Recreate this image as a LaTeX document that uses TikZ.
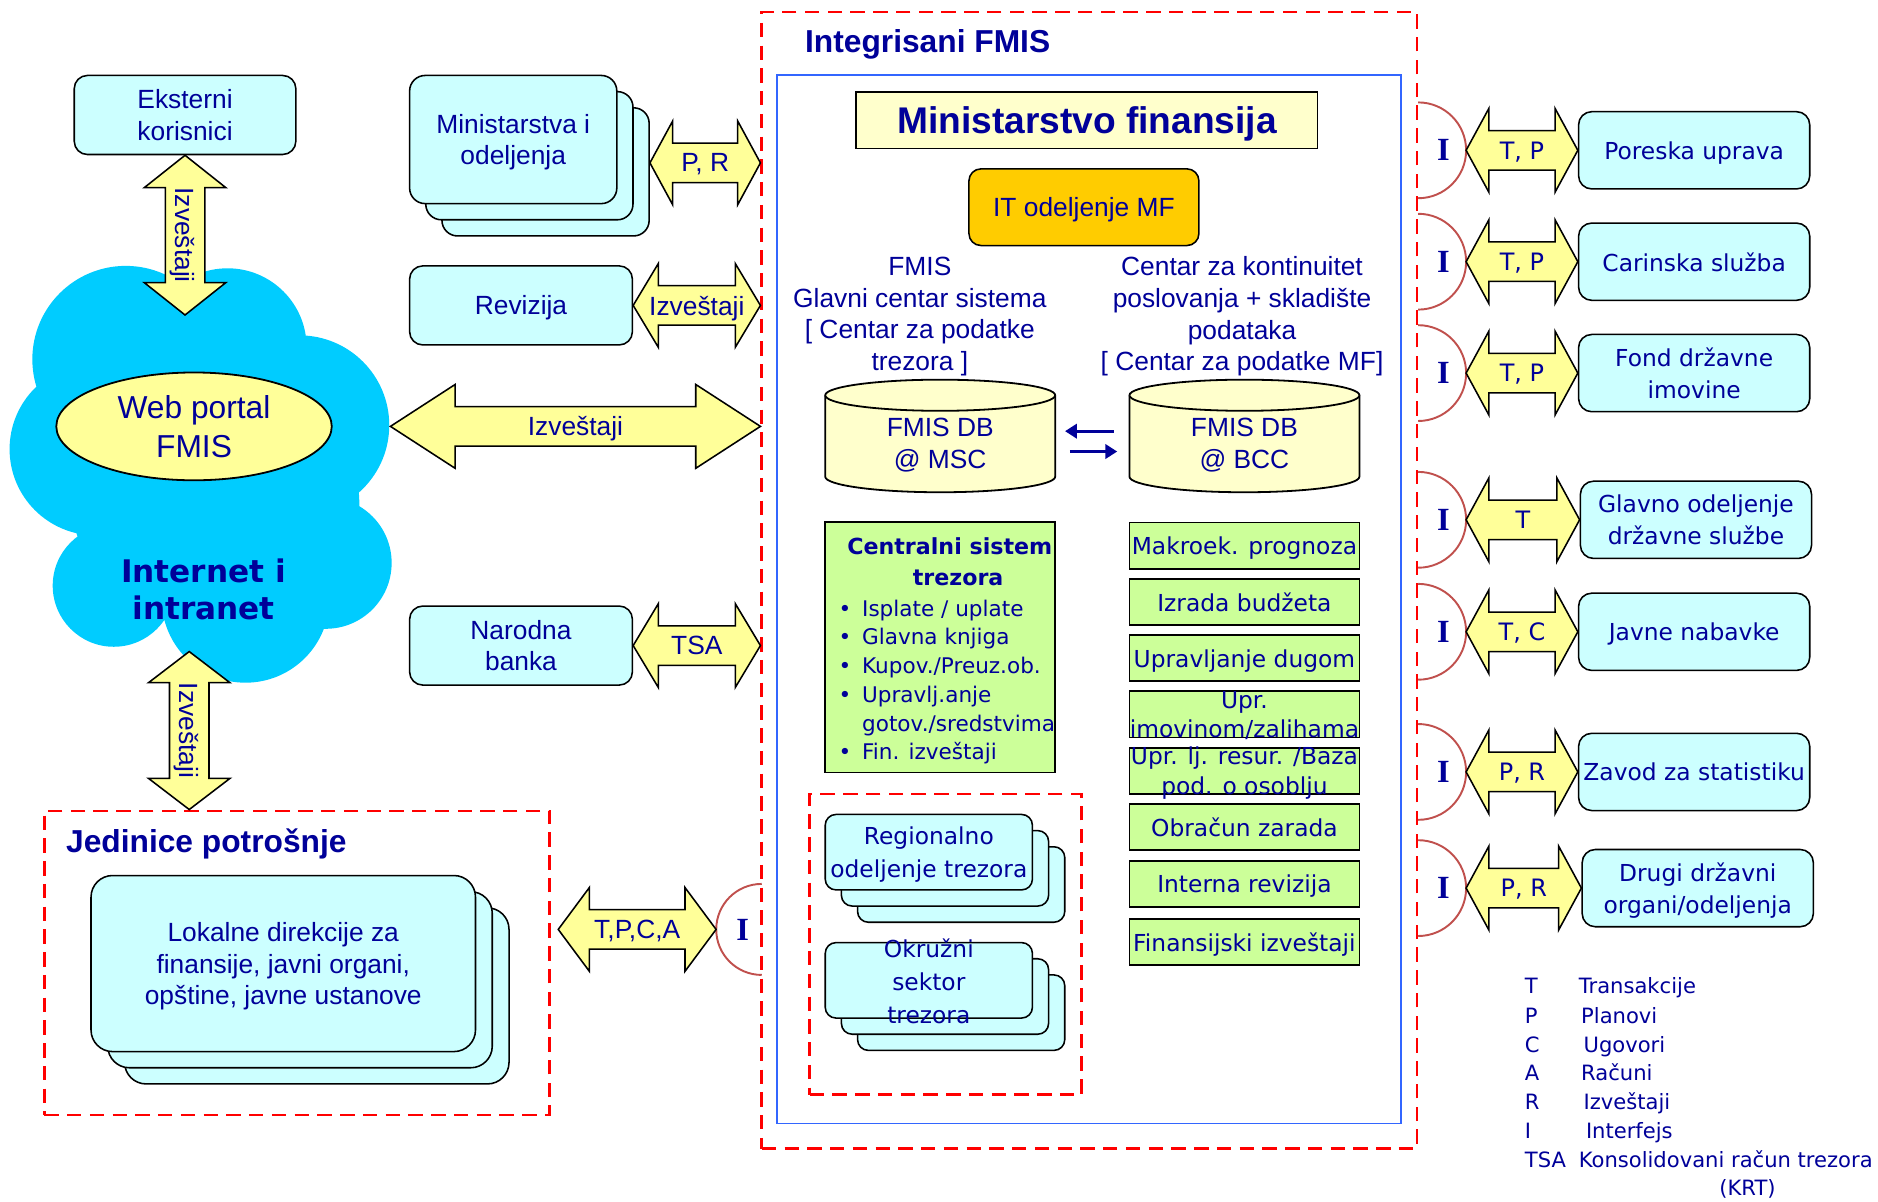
\documentclass[tikz,border=0pt]{standalone}
\usepackage{fontspec}
\setmainfont{Liberation Sans}
\newfontfamily\verdana{DejaVu Sans}
\newfontfamily\timesb{Liberation Serif}
\usetikzlibrary{calc,arrows.meta,shapes.geometric}

\definecolor{navy}{HTML}{000099}
\definecolor{cyfill}{HTML}{CCFFFF}
\definecolor{ylw}{HTML}{FFFF99}
\definecolor{cream}{HTML}{FFFFCC}
\definecolor{cloudblue}{HTML}{00CCFF}
\definecolor{itorange}{HTML}{FFCC00}
\definecolor{lime}{HTML}{CCFF99}
\definecolor{framered}{HTML}{FF0000}
\definecolor{frameblue}{HTML}{3366FF}
\definecolor{arcred}{HTML}{C0504D}

\newcommand\armain{\fontsize{22}{26.5}\selectfont}
\newcommand\vmain{\verdana\fontsize{19.5}{27}\selectfont}
\newcommand\vgreen{\verdana\fontsize{19.5}{24.5}\selectfont}
\newcommand\vsmall{\verdana\fontsize{18}{24}\selectfont}
\newcommand\vlab{\verdana\fontsize{20}{24}\selectfont}

\tikzset{
  txt/.style={text=navy, align=center, inner sep=0pt, text depth=0pt},
  cybox/.style={draw, line width=1.3pt, fill=cyfill, rounded corners=11pt, txt, font=\armain},
  gbox/.style={draw, line width=1.5pt, fill=lime},
  redframe/.style={draw=framered, line width=2.2pt, dash pattern=on 12pt off 7pt},
  blueframe/.style={draw=frameblue, line width=1.6pt},
  titletxt/.style={text=navy, inner sep=0pt, text depth=0pt, font=\bfseries\fontsize{26.5}{30}\selectfont},
  blockarrow/.style={draw, line width=1.3pt, fill=ylw, line join=miter},
  arrowlbl/.style={txt, font=\armain},
  webell/.style={ellipse, draw, line width=1.5pt, fill=ylw, txt, font=\fontsize{26.5}{32}\selectfont},
  dbcyl/.style={draw, line width=1.5pt, fill=cream},
  dbarrow/.style={navy, line width=2.5pt, -{Triangle[length=10pt,width=12pt]}},
  iarc/.style={arcred, line width=1.6pt},
  imark/.style={text=navy, inner sep=0pt, font=\timesb\bfseries\fontsize{27}{30}\selectfont},
  legtxt/.style={text=navy, inner sep=0pt, font=\verdana\fontsize{17.6}{24}\selectfont}
}

% horizontal block arrow: left tip, right tip, head length, label, name
\newcommand\harrow[5]{%
  \path[blockarrow] let \p1=#1, \p2=#2 in
    (\x1,\y1) -- (\x1+#3pt,\y1+35pt) -- (\x1+#3pt,\y1+16.5pt) -- (\x2-#3pt,\y1+16.5pt)
    -- (\x2-#3pt,\y1+35pt) -- (\x2,\y1) -- (\x2-#3pt,\y1-35pt) -- (\x2-#3pt,\y1-16.5pt)
    -- (\x1+#3pt,\y1-16.5pt) -- (\x1+#3pt,\y1-35pt) -- cycle;
  \node[arrowlbl] (#5) at ($#1!0.5!#2$) {#4};}
% vertical block arrow: top tip, bottom tip, head length, label, name
\newcommand\varrow[5]{%
  \path[blockarrow] let \p1=#1, \p2=#2 in
    (\x1,\y1) -- (\x1+34pt,\y1-#3pt) -- (\x1+16.5pt,\y1-#3pt) -- (\x1+16.5pt,\y2+#3pt)
    -- (\x1+34pt,\y2+#3pt) -- (\x1,\y2) -- (\x1-34pt,\y2+#3pt) -- (\x1-16.5pt,\y2+#3pt)
    -- (\x1-16.5pt,\y1-#3pt) -- (\x1-34pt,\y1-#3pt) -- cycle;
  \node[arrowlbl, rotate=-90] (#5) at ($#1!0.5!#2$) {#4};}

\begin{document}
\begin{tikzpicture}[x=1pt,y=1pt]
\useasboundingbox (0,0) rectangle (1568,-1003);

% frames
\node[redframe, minimum width=547pt, minimum height=949pt] (outer) at (909.5,-484.5) {};
\node[blueframe, minimum width=521pt, minimum height=875pt] (inner) at (909.5,-500.5) {};
\node[redframe, minimum width=422pt, minimum height=254pt] (jed) at (248,-804) {};
\node[redframe, minimum width=227pt, minimum height=251pt] (tre) at (789.5,-788.5) {};
\node[titletxt, anchor=west] (fmisttl) at (672,-34) {Integrisani FMIS};
\node[titletxt, anchor=west] (jedttl) at (55,-702) {Jedinice potrošnje};

% cloud
\fill[cloudblue] (105,-300) circle[radius=78] (190,-290) circle[radius=66]
  (250,-355) circle[radius=75] (80,-375) circle[radius=72]
  (180,-420) ellipse[x radius=120,y radius=100] (272,-470) circle[radius=55]
  (95,-489) circle[radius=51] (205,-500) circle[radius=70];
\node[webell, minimum width=230pt, minimum height=90pt] (web) at (162,-356) {Web portal\\FMIS};
\node[txt, font=\verdana\bfseries\fontsize{26}{31}\selectfont] (inet) at (170,-492) {Internet i\\intranet};
\coordinate (cloudT) at (154.5,-263);
\coordinate (cloudE) at (326,-356);
\coordinate (cloudB) at (158,-544);

% left side
\node[cybox, minimum width=185pt, minimum height=66pt] (ekst) at (154.5,-96) {Eksterni\\korisnici};
\node[cybox, rounded corners=13pt, minimum width=173pt, minimum height=107pt] (min3) at (455.5,-143.5) {};
\node[cybox, rounded corners=13pt, minimum width=173pt, minimum height=107pt] (min2) at (442,-130) {};
\node[cybox, rounded corners=13pt, minimum width=173pt, minimum height=107pt] (min) at (428.5,-116.5) {Ministarstva i\\odeljenja};
\node[cybox, minimum width=186pt, minimum height=66pt] (rev) at (435,-255) {Revizija};
\node[cybox, minimum width=186pt, minimum height=66pt] (nb) at (435,-539) {Narodna\\banka};
\node[cybox, rounded corners=18pt, minimum width=321pt, minimum height=147pt] (lok3) at (264.5,-831.5) {};
\node[cybox, rounded corners=18pt, minimum width=321pt, minimum height=147pt] (lok2) at (250.5,-818) {};
\node[cybox, rounded corners=18pt, minimum width=321pt, minimum height=147pt] (lok) at (236.5,-804.5) {Lokalne direkcije za\\finansije, javni organi,\\opštine, javne ustanove};

\coordinate (pry) at (0,-136);
\harrow{(min3.east |- pry)}{(outer.west |- pry)}{19}{P, R}{apr}
\harrow{(rev.east)}{(outer.west |- rev.east)}{21}{Izveštaji}{arev}
\harrow{(cloudE)}{(outer.west |- cloudE)}{54}{Izveštaji}{aweb}
\harrow{(nb.east)}{(outer.west |- nb.east)}{21}{TSA}{atsa}
\varrow{(ekst.south)}{(cloudT)}{27}{Izveštaji}{aext}
\varrow{(cloudB)}{(cloudB |- jed.north)}{26}{Izveštaji}{ajed}

\node[imark] (tpcai) at (620,-776) {I};
\draw[iarc] (636,-738) arc[start angle=90,end angle=270,radius=38];
\coordinate (tpcaL) at ($(jed.east |- tpcai)+(6,0)$);
\coordinate (tpcaR) at ($(outer.west |- tpcai)+(-37,0)$);
\harrow{(tpcaL)}{(tpcaR)}{26}{T,P,C,A}{atpca}

% Ministarstvo finansija
\node[draw, line width=1.5pt, fill=cream, txt, font=\bfseries\fontsize{31}{36}\selectfont,
  minimum width=385pt, minimum height=47pt] (mf) at (907.5,-100.5) {Ministarstvo finansija};
\node[draw, line width=1.3pt, fill=itorange, rounded corners=10pt, txt, font=\armain,
  minimum width=192pt, minimum height=64pt] (it) at (905,-173) {IT odeljenje MF};
\node[txt, font=\armain] (msc) at (768,-262) {FMIS\\Glavni centar sistema\\{[} Centar za podatke\\trezora {]}};
\node[txt, font=\armain] (bcc) at (1037,-262) {Centar za kontinuitet\\poslovanja + skladište\\podataka\\{[} Centar za podatke MF{]}};

% baze
\foreach \cx in {785,1039}{
  \draw[dbcyl] (\cx-96,-330) -- (\cx-96,-398) arc[start angle=180,end angle=360,x radius=96,y radius=13]
    -- (\cx+96,-330) arc[start angle=0,end angle=180,x radius=96,y radius=13] -- cycle;
  \draw[dbcyl] (\cx-96,-330) arc[start angle=180,end angle=360,x radius=96,y radius=13];
}
\node[txt, font=\armain, minimum width=192pt] (db1) at (785,-370) {FMIS DB\\@ MSC};
\node[txt, font=\armain, minimum width=192pt] (db2) at (1039,-370) {FMIS DB\\@ BCC};
\draw[dbarrow] ($(db2.west)+(-13,10)$) -- ($(db1.east)+(8,10)$);
\draw[dbarrow] ($(db1.east)+(12,-7)$) -- ($(db2.west)+(-10,-7)$);

% trezor
\node[gbox, minimum width=192pt, minimum height=209pt] (cst) at (785,-540.5) {};
\node[txt, font=\verdana\bfseries\fontsize{18.5}{26}\selectfont] (cstt) at (793,-469) {Centralni sistem\\\hspace{14pt}trezora};
\node[text=navy, inner sep=0pt, font=\vsmall, anchor=base west] (cstl) at (700,-514.5) {%
  \begin{tabular}[t]{@{}l@{\hspace{9pt}}l@{}}
  \textbullet & Isplate / uplate\\
  \textbullet & Glavna knjiga\\
  \textbullet & Kupov./Preuz.ob.\\
  \textbullet & Upravlj.anje\\
              & gotov./sredstvima\\
  \textbullet & Fin. izveštaji
  \end{tabular}};

\node[cybox, rounded corners=9pt, minimum width=173pt, minimum height=63pt] (reg3) at (802.5,-738.5) {};
\node[cybox, rounded corners=9pt, minimum width=173pt, minimum height=63pt] (reg2) at (789,-725) {};
\node[cybox, rounded corners=9pt, minimum width=173pt, minimum height=63pt, font=\vmain] (reg) at (775.5,-711.5) {Regionalno\\odeljenje trezora};
\node[cybox, rounded corners=9pt, minimum width=173pt, minimum height=63pt] (okr3) at (802.5,-845.5) {};
\node[cybox, rounded corners=9pt, minimum width=173pt, minimum height=63pt] (okr2) at (789,-832) {};
\node[cybox, rounded corners=9pt, minimum width=173pt, minimum height=63pt] (okr) at (775.5,-818.5) {};
\node[txt, font=\verdana\fontsize{19.5}{27.5}\selectfont] (okrt) at (775.5,-819.5) {Okružni\\sektor\\trezora};

% moduli
\foreach \nm/\yy in {g1/455.5, g2/502.5, g3/549.5, g4/596.5, g5/643.5, g6/690.5, g7/738, g8/786.5}
  \node[gbox, minimum width=192pt, minimum height=38.5pt] (\nm) at (1039,-\yy) {};
\foreach \nm/\txt in {g1/{Makroek. prognoza}, g2/{Izrada budžeta}, g3/{Upravljanje dugom},
    g4/{Upr.\\imovinom/zalihama}, g5/{Upr. lj. resur. /Baza\\pod. o osoblju}, g6/{Obračun zarada},
    g7/{Interna revizija}, g8/{Finansijski izveštaji}}
  \node[txt, font=\vgreen] (\nm-t) at (\nm) {\txt};

% spoljni sistemi
\foreach \nm/\yy/\bx/\lbl/\txt in {
    por/125.5/1414.5/{T, P}/{Poreska uprava},
    car/218.5/1414.5/{T, P}/{Carinska služba},
    fond/311.5/1414.5/{T, P}/{Fond državne\\imovine},
    glav/434/1416/{T}/{Glavno odeljenje\\državne službe},
    jn/527.5/1414.5/{T, C}/{Javne nabavke},
    zs/644.5/1414.5/{P, R}/{Zavod za statistiku},
    dr/741.5/1417.5/{P, R}/{Drugi državni\\organi/odeljenja}}{
  \node[cybox, font=\vmain, minimum width=193pt, minimum height=64.5pt] (\nm) at (\bx,-\yy) {\txt};
  \coordinate (\nm-c) at (outer.east |- \nm);
  \draw[iarc] ($(\nm-c)+(0,40)$) arc[start angle=90,end angle=-90,radius=40];
  \node[imark] (\nm-i) at ($(\nm-c)+(21,0)$) {I};
  \harrow{($(\nm-c)+(40,0)$)}{(\nm.west)}{19}{{\vlab\lbl}}{\nm-a}
}

% legenda
\foreach \k/\d/\yy/\dx in {T/Transakcije/823/1318, P/Planovi/848/1320, C/Ugovori/872/1322,
    A/Računi/896/1320, R/Izveštaji/920/1322, I/Interfejs/944/1324,
    TSA/Konsolidovani račun trezora/968/1318}{
  \node[legtxt, anchor=base west] (lk-\k) at (1273,-\yy-6.5) {\k};
  \node[legtxt, anchor=base west] (ld-\k) at (\dx,-\yy-6.5) {\d};
}
\node[legtxt, anchor=base] (lkrt) at (1459,-998.5) {(KRT)};
\end{tikzpicture}
\end{document}
